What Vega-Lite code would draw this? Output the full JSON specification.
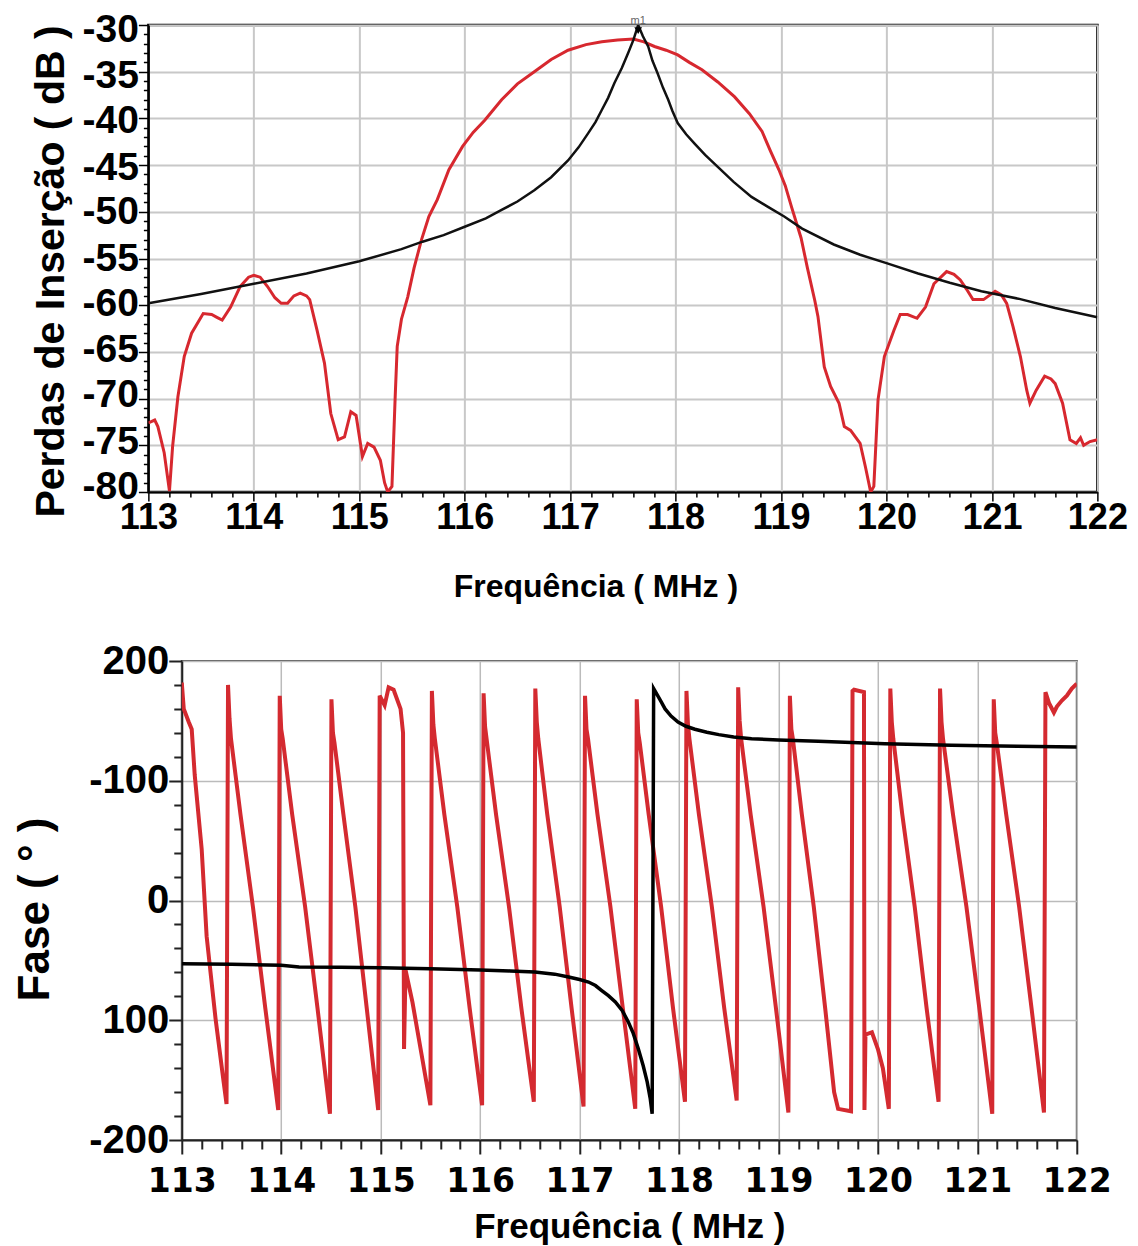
{
  "$schema": "https://vega.github.io/schema/vega-lite/v6.json",
  "background": "white",
  "padding": {"left": 12, "top": 8, "right": 0, "bottom": 0},
  "spacing": 36,
  "center": true,
  "datasets": {
    "perdas_medida": [
      {"f":113.00,"v":-72.6},{"f":113.06,"v":-72.3},{"f":113.09,"v":-73.0},{"f":113.15,"v":-75.8},{"f":113.20,"v":-79.9},
      {"f":113.23,"v":-75.1},{"f":113.28,"v":-69.8},{"f":113.34,"v":-65.5},{"f":113.41,"v":-63.0},{"f":113.52,"v":-60.9},
      {"f":113.60,"v":-61.0},{"f":113.65,"v":-61.3},{"f":113.70,"v":-61.6},{"f":113.78,"v":-60.2},{"f":113.87,"v":-58.0},
      {"f":113.95,"v":-57.0},{"f":114.00,"v":-56.8},{"f":114.06,"v":-57.0},{"f":114.13,"v":-58.0},{"f":114.20,"v":-59.2},
      {"f":114.26,"v":-59.8},{"f":114.32,"v":-59.8},{"f":114.38,"v":-59.0},{"f":114.44,"v":-58.7},{"f":114.50,"v":-59.0},
      {"f":114.53,"v":-59.4},{"f":114.60,"v":-62.7},{"f":114.67,"v":-66.2},{"f":114.73,"v":-71.6},{"f":114.80,"v":-74.4},
      {"f":114.86,"v":-74.1},{"f":114.92,"v":-71.4},{"f":114.97,"v":-71.8},{"f":115.03,"v":-76.2},{"f":115.08,"v":-74.8},
      {"f":115.14,"v":-75.2},{"f":115.20,"v":-76.6},{"f":115.24,"v":-79.0},{"f":115.27,"v":-80.0},{"f":115.31,"v":-79.4},
      {"f":115.34,"v":-70.0},{"f":115.36,"v":-64.4},{"f":115.40,"v":-61.5},{"f":115.46,"v":-59.1},{"f":115.52,"v":-56.0},
      {"f":115.59,"v":-53.0},{"f":115.66,"v":-50.5},{"f":115.74,"v":-48.7},{"f":115.85,"v":-45.5},{"f":115.98,"v":-43.0},
      {"f":116.08,"v":-41.5},{"f":116.19,"v":-40.2},{"f":116.35,"v":-38.0},{"f":116.50,"v":-36.3},{"f":116.66,"v":-35.0},
      {"f":116.82,"v":-33.7},{"f":116.98,"v":-32.7},{"f":117.15,"v":-32.1},{"f":117.30,"v":-31.8},{"f":117.45,"v":-31.6},
      {"f":117.60,"v":-31.5},{"f":117.70,"v":-31.8},{"f":117.80,"v":-32.3},{"f":117.91,"v":-32.7},{"f":118.02,"v":-33.2},
      {"f":118.13,"v":-34.0},{"f":118.25,"v":-34.8},{"f":118.40,"v":-36.1},{"f":118.56,"v":-37.7},{"f":118.70,"v":-39.5},
      {"f":118.82,"v":-41.4},{"f":118.90,"v":-43.5},{"f":118.98,"v":-45.5},{"f":119.04,"v":-47.2},{"f":119.10,"v":-49.5},
      {"f":119.19,"v":-52.8},{"f":119.25,"v":-56.0},{"f":119.32,"v":-59.5},{"f":119.35,"v":-61.2},{"f":119.41,"v":-66.6},
      {"f":119.47,"v":-68.7},{"f":119.55,"v":-70.5},{"f":119.60,"v":-73.0},{"f":119.66,"v":-73.4},{"f":119.75,"v":-74.8},
      {"f":119.80,"v":-77.3},{"f":119.85,"v":-80.0},{"f":119.88,"v":-79.4},{"f":119.92,"v":-70.1},{"f":119.98,"v":-65.5},
      {"f":120.07,"v":-62.7},{"f":120.13,"v":-61.0},{"f":120.20,"v":-61.0},{"f":120.29,"v":-61.4},{"f":120.37,"v":-60.2},
      {"f":120.45,"v":-57.7},{"f":120.57,"v":-56.4},{"f":120.64,"v":-56.7},{"f":120.70,"v":-57.3},{"f":120.76,"v":-58.3},
      {"f":120.82,"v":-59.4},{"f":120.92,"v":-59.4},{"f":121.03,"v":-58.5},{"f":121.09,"v":-58.9},{"f":121.14,"v":-59.8},
      {"f":121.20,"v":-62.3},{"f":121.27,"v":-65.5},{"f":121.33,"v":-69.1},{"f":121.36,"v":-70.5},{"f":121.42,"v":-69.1},
      {"f":121.50,"v":-67.6},{"f":121.56,"v":-67.9},{"f":121.60,"v":-68.4},{"f":121.67,"v":-70.5},{"f":121.74,"v":-74.4},
      {"f":121.80,"v":-74.8},{"f":121.84,"v":-74.2},{"f":121.87,"v":-75.0},{"f":121.93,"v":-74.6},{"f":122.00,"v":-74.4}
    ],
    "perdas_simulada": [
      {"f":113.0,"v":-59.8},{"f":113.5,"v":-58.8},{"f":114.0,"v":-57.7},{"f":114.5,"v":-56.6},{"f":115.0,"v":-55.3},
      {"f":115.4,"v":-54.0},{"f":115.6,"v":-53.2},{"f":115.8,"v":-52.5},{"f":116.0,"v":-51.6},{"f":116.2,"v":-50.7},
      {"f":116.35,"v":-49.8},{"f":116.5,"v":-48.9},{"f":116.66,"v":-47.7},{"f":116.82,"v":-46.3},{"f":116.98,"v":-44.5},
      {"f":117.08,"v":-43.1},{"f":117.17,"v":-41.6},{"f":117.24,"v":-40.4},{"f":117.3,"v":-39.1},{"f":117.36,"v":-37.8},
      {"f":117.42,"v":-36.2},{"f":117.49,"v":-34.6},{"f":117.55,"v":-33.0},{"f":117.6,"v":-31.6},{"f":117.645,"v":-30.0},
      {"f":117.69,"v":-31.2},{"f":117.74,"v":-32.3},{"f":117.78,"v":-33.8},{"f":117.83,"v":-35.2},{"f":117.88,"v":-36.7},
      {"f":117.93,"v":-38.0},{"f":117.97,"v":-39.2},{"f":118.02,"v":-40.5},{"f":118.1,"v":-41.7},{"f":118.18,"v":-42.7},
      {"f":118.28,"v":-43.9},{"f":118.4,"v":-45.2},{"f":118.55,"v":-46.8},{"f":118.72,"v":-48.4},{"f":118.88,"v":-49.5},
      {"f":119.03,"v":-50.5},{"f":119.2,"v":-51.8},{"f":119.5,"v":-53.5},{"f":119.75,"v":-54.6},{"f":120.0,"v":-55.5},
      {"f":120.3,"v":-56.6},{"f":120.6,"v":-57.6},{"f":120.9,"v":-58.5},{"f":121.25,"v":-59.3},{"f":121.6,"v":-60.3},
      {"f":122.0,"v":-61.3}
    ],
    "marcador": [{"f":117.645,"v":-30.6,"nome":"m1"}],
    "fase_medida": [
      {"f":113.0,"v":182},{"f":113.02,"v":160},{"f":113.07,"v":149},{"f":113.10,"v":143},{"f":113.13,"v":105},{"f":113.2,"v":43},{"f":113.25,"v":-30},{"f":113.34,"v":-99},{"f":113.42,"v":-151},{"f":113.45,"v":-170},
      {"f":113.465,"v":180},{"f":113.48,"v":152},{"f":113.495,"v":135},{"f":113.59,"v":72},{"f":113.715,"v":-5},{"f":113.84,"v":-90},{"f":113.97,"v":-175},
      {"f":113.985,"v":171},{"f":114.0,"v":143},{"f":114.015,"v":135},{"f":114.11,"v":72},{"f":114.24,"v":-5},{"f":114.365,"v":-90},{"f":114.49,"v":-178},
      {"f":114.505,"v":168},{"f":114.52,"v":140},{"f":114.535,"v":132},{"f":114.625,"v":72},{"f":114.745,"v":-5},{"f":114.86,"v":-90},{"f":114.975,"v":-175},
      {"f":114.99,"v":171},{"f":115.04,"v":163},{"f":115.08,"v":178},{"f":115.13,"v":176},{"f":115.2,"v":160},{"f":115.225,"v":140},{"f":115.235,"v":-124},{"f":115.25,"v":-58},{"f":115.32,"v":-85},{"f":115.41,"v":-128},{"f":115.50,"v":-171},
      {"f":115.515,"v":175},{"f":115.53,"v":147},{"f":115.545,"v":135},{"f":115.64,"v":72},{"f":115.77,"v":-5},{"f":115.895,"v":-90},{"f":116.02,"v":-171},
      {"f":116.035,"v":173},{"f":116.05,"v":145},{"f":116.065,"v":135},{"f":116.16,"v":72},{"f":116.29,"v":-5},{"f":116.415,"v":-90},{"f":116.54,"v":-168},
      {"f":116.555,"v":177},{"f":116.57,"v":149},{"f":116.585,"v":135},{"f":116.675,"v":72},{"f":116.80,"v":-5},{"f":116.92,"v":-90},{"f":117.04,"v":-172},
      {"f":117.055,"v":171},{"f":117.07,"v":143},{"f":117.085,"v":135},{"f":117.18,"v":72},{"f":117.31,"v":-5},{"f":117.435,"v":-90},{"f":117.56,"v":-174},
      {"f":117.575,"v":168},{"f":117.59,"v":140},{"f":117.605,"v":132},{"f":117.695,"v":72},{"f":117.82,"v":-5},{"f":117.94,"v":-90},{"f":118.06,"v":-168},
      {"f":118.075,"v":175},{"f":118.09,"v":147},{"f":118.105,"v":135},{"f":118.2,"v":72},{"f":118.33,"v":-5},{"f":118.455,"v":-90},{"f":118.58,"v":-167},
      {"f":118.595,"v":178},{"f":118.61,"v":150},{"f":118.625,"v":135},{"f":118.72,"v":72},{"f":118.85,"v":-5},{"f":118.975,"v":-90},{"f":119.10,"v":-177},
      {"f":119.115,"v":171},{"f":119.13,"v":143},{"f":119.145,"v":135},{"f":119.235,"v":72},{"f":119.355,"v":-5},{"f":119.47,"v":-90},{"f":119.56,"v":-160},{"f":119.60,"v":-174},{"f":119.73,"v":-176},
      {"f":119.745,"v":175},{"f":119.76,"v":176},{"f":119.86,"v":174},{"f":119.865,"v":-175},{"f":119.875,"v":-112},{"f":119.94,"v":-110},{"f":120.0,"v":-124},{"f":120.05,"v":-140},{"f":120.11,"v":-174},
      {"f":120.125,"v":177},{"f":120.14,"v":149},{"f":120.155,"v":135},{"f":120.245,"v":72},{"f":120.37,"v":-5},{"f":120.49,"v":-90},{"f":120.61,"v":-168},
      {"f":120.625,"v":177},{"f":120.64,"v":149},{"f":120.655,"v":135},{"f":120.755,"v":72},{"f":120.89,"v":-5},{"f":121.02,"v":-90},{"f":121.15,"v":-178},
      {"f":121.165,"v":168},{"f":121.18,"v":140},{"f":121.195,"v":132},{"f":121.29,"v":72},{"f":121.42,"v":-5},{"f":121.545,"v":-90},{"f":121.67,"v":-177},
      {"f":121.685,"v":174},{"f":121.72,"v":165},{"f":121.77,"v":157},{"f":121.80,"v":162},{"f":121.85,"v":167},{"f":121.9,"v":171},{"f":121.95,"v":177},{"f":122.0,"v":181}
    ],
    "fase_simulada": [
      {"f":113.0,"v":-52.8},{"f":113.5,"v":-53.3},{"f":114.0,"v":-54.0},{"f":114.18,"v":-55.5},{"f":114.6,"v":-55.8},
      {"f":115.0,"v":-56.2},{"f":115.5,"v":-57.0},{"f":116.0,"v":-58.0},{"f":116.3,"v":-58.8},{"f":116.55,"v":-59.7},
      {"f":116.75,"v":-61.5},{"f":116.89,"v":-63.9},{"f":117.0,"v":-66.0},{"f":117.09,"v":-68.1},{"f":117.16,"v":-71.0},
      {"f":117.22,"v":-75.0},{"f":117.29,"v":-79.5},{"f":117.36,"v":-84.7},{"f":117.43,"v":-92},{"f":117.49,"v":-101.4},
      {"f":117.54,"v":-111},{"f":117.59,"v":-123.7},{"f":117.64,"v":-138},{"f":117.68,"v":-151.5},{"f":117.71,"v":-165},
      {"f":117.73,"v":-178},{"f":117.745,"v":177},{"f":117.78,"v":172},{"f":117.82,"v":166},{"f":117.86,"v":160},
      {"f":117.92,"v":154},{"f":117.99,"v":149},{"f":118.07,"v":145.5},{"f":118.16,"v":143},{"f":118.28,"v":140.5},
      {"f":118.4,"v":138.5},{"f":118.55,"v":136.6},{"f":118.73,"v":135.1},{"f":119.0,"v":134},{"f":119.4,"v":133},
      {"f":120.07,"v":131},{"f":120.74,"v":129.6},{"f":121.4,"v":128.8},{"f":122.0,"v":128.2}
    ]
  },
  "vconcat": [
    {
      "width": 949,
      "height": 467,
      "view": {"stroke": "black", "strokeWidth": 2.5},
      "resolve": {"axis": {"y": "independent"}},
      "encoding": {
        "x": {
          "field": "f", "type": "quantitative",
          "scale": {"domain": [113, 122], "nice": false, "zero": false},
          "axis": {
            "title": "Frequência ( MHz )",
            "values": [113,113.2,113.4,113.6,113.8,114,114.2,114.4,114.6,114.8,115,115.2,115.4,115.6,115.8,116,116.2,116.4,116.6,116.8,117,117.2,117.4,117.6,117.8,118,118.2,118.4,118.6,118.8,119,119.2,119.4,119.6,119.8,120,120.2,120.4,120.6,120.8,121,121.2,121.4,121.6,121.8,122],
            "labelExpr": "abs(datum.value - round(datum.value)) < 0.01 ? format(round(datum.value), 'd') : ''",
            "labelFont": "Liberation Sans", "labelFontWeight": "bold", "labelFontSize": 36, "labelColor": "black",
            "labelFlush": false, "labelOverlap": false, "labelBound": false, "labelPadding": -1,
            "tickColor": "black", "tickWidth": 1.5,
            "tickSize": {"condition": {"test": "abs(datum.value - round(datum.value)) < 0.01", "value": 9}, "value": 5},
            "grid": true, "gridColor": "#c8c8c8", "gridWidth": 2,
            "gridOpacity": {"condition": {"test": "abs(datum.value - round(datum.value)) < 0.01", "value": 1}, "value": 0},
            "domainColor": "black", "domainWidth": 2,
            "titleFont": "Liberation Sans", "titleFontWeight": "bold", "titleFontSize": 32, "titleColor": "black",
            "titleX": 447, "titleY": 79
          }
        }
      },
      "layer": [
        {"data": {"name": "perdas_medida"}, "mark": {"type": "line", "color": "#d7282f", "strokeWidth": 3, "clip": true},
         "encoding": {"y": {
          "field": "v", "type": "quantitative",
          "scale": {"domain": [-80, -30], "nice": false, "zero": false},
          "axis": {
            "orient": "left",
            "title": "Perdas de Inserção ( dB )",
            "values": [-80,-79,-78,-77,-76,-75,-74,-73,-72,-71,-70,-69,-68,-67,-66,-65,-64,-63,-62,-61,-60,-59,-58,-57,-56,-55,-54,-53,-52,-51,-50,-49,-48,-47,-46,-45,-44,-43,-42,-41,-40,-39,-38,-37,-36,-35,-34,-33,-32,-31,-30],
            "labelExpr": "datum.value % 5 == 0 ? '-' + format(abs(datum.value), 'd') : ''",
            "labelFont": "Liberation Sans", "labelFontWeight": "bold", "labelFontSize": 39, "labelColor": "black",
            "labelOverlap": false, "labelBound": false, "labelPadding": 0,
            "labelOffset": {"condition": [
              {"test": "datum.value >= -35", "value": 4},
              {"test": "datum.value >= -45", "value": 2},
              {"test": "datum.value >= -55", "value": 0},
              {"test": "datum.value >= -65", "value": -2},
              {"test": "datum.value >= -75", "value": -4}
            ], "value": -6},
            "tickColor": "black", "tickWidth": 1.5,
            "tickSize": {"condition": {"test": "datum.value % 5 == 0", "value": 10}, "value": 5},
            "grid": true, "gridColor": "#c8c8c8", "gridWidth": 2,
            "gridOpacity": {"condition": {"test": "datum.value % 5 == 0", "value": 1}, "value": 0},
            "domainColor": "black", "domainWidth": 2,
            "titleFont": "Liberation Sans", "titleFontWeight": "bold", "titleFontSize": 41, "titleColor": "black",
            "titleX": -76, "titleY": 246
          }
         }}},
        {"data": {"name": "perdas_simulada"}, "mark": {"type": "line", "color": "#111111", "strokeWidth": 2.5, "clip": true},
         "encoding": {"y": {"field": "v", "type": "quantitative",
           "scale": {"domain": [-80, -30], "nice": false, "zero": false},
           "axis": {"orient": "right", "labels": false, "ticks": true, "values": [-55], "tickSize": 47, "tickOpacity": 0, "domain": false, "grid": false, "title": null}}}},
        {"data": {"name": "marcador"}, "mark": {"type": "point", "shape": "triangle-down", "filled": true, "color": "black", "size": 60, "opacity": 1},
         "encoding": {"y": {"field": "v", "type": "quantitative", "scale": {"domain": [-80, -30], "nice": false, "zero": false}, "axis": null}}},
        {"data": {"name": "marcador"}, "mark": {"type": "text", "font": "Liberation Sans", "fontSize": 11, "color": "#666666", "dy": -7, "baseline": "alphabetic"},
         "encoding": {"y": {"field": "v", "type": "quantitative", "scale": {"domain": [-80, -30], "nice": false, "zero": false}, "axis": null},
                      "text": {"field": "nome"}}}
      ]
    },
    {
      "width": 895,
      "height": 479,
      "view": {"stroke": "#555555", "strokeWidth": 2},
      "encoding": {
        "x": {
          "field": "f", "type": "quantitative",
          "scale": {"domain": [113, 122], "nice": false, "zero": false},
          "axis": {
            "title": "Frequência ( MHz )",
            "values": [113,113.2,113.4,113.6,113.8,114,114.2,114.4,114.6,114.8,115,115.2,115.4,115.6,115.8,116,116.2,116.4,116.6,116.8,117,117.2,117.4,117.6,117.8,118,118.2,118.4,118.6,118.8,119,119.2,119.4,119.6,119.8,120,120.2,120.4,120.6,120.8,121,121.2,121.4,121.6,121.8,122],
            "labelExpr": "abs(datum.value - round(datum.value)) < 0.01 ? format(round(datum.value), 'd') : ''",
            "labelFont": "DejaVu Sans", "labelFontWeight": "bold", "labelFontSize": 33, "labelColor": "black",
            "labelFlush": false, "labelOverlap": false, "labelBound": false, "labelPadding": 11,
            "tickColor": "#222222", "tickWidth": 2,
            "tickSize": {"condition": {"test": "abs(datum.value - round(datum.value)) < 0.01", "value": 14}, "value": 9},
            "grid": true, "gridColor": "#bbbbbb", "gridWidth": 1.5,
            "gridOpacity": {"condition": {"test": "abs(datum.value - round(datum.value)) < 0.01", "value": 1}, "value": 0},
            "domainColor": "#222222", "domainWidth": 2,
            "titleFont": "Liberation Sans", "titleFontWeight": "bold", "titleFontSize": 35, "titleColor": "black",
            "titleX": 447.5, "titleY": 69
          }
        },
        "y": {
          "field": "v", "type": "quantitative",
          "scale": {"domain": [-200, 200], "nice": false, "zero": false},
          "axis": {
            "title": "Fase ( ° )",
            "values": [-200,-180,-160,-140,-120,-100,-80,-60,-40,-20,0,20,40,60,80,100,120,140,160,180,200],
            "labelExpr": "datum.value == 200 ? '200' : datum.value == 100 ? '-100' : datum.value == 0 ? '0' : datum.value == -100 ? '100' : datum.value == -200 ? '-200' : ''",
            "labelFont": "Liberation Sans", "labelFontWeight": "bold", "labelFontSize": 40, "labelColor": "black",
            "labelOverlap": false, "labelBound": false, "labelPadding": 0,
            "tickColor": "#222222", "tickWidth": 2,
            "tickSize": {"condition": {"test": "datum.value % 100 == 0", "value": 13}, "value": 8},
            "grid": true, "gridColor": "#bbbbbb", "gridWidth": 1.5,
            "gridOpacity": {"condition": {"test": "datum.value % 100 == 0", "value": 1}, "value": 0},
            "domainColor": "#222222", "domainWidth": 2,
            "titleFont": "Liberation Sans", "titleFontWeight": "bold", "titleFontSize": 44, "titleColor": "black",
            "titleX": -124, "titleY": 248
          }
        }
      },
      "layer": [
        {"data": {"name": "fase_medida"}, "mark": {"type": "line", "color": "#d42a30", "strokeWidth": 4, "clip": true}},
        {"data": {"name": "fase_simulada"}, "mark": {"type": "line", "color": "#000000", "strokeWidth": 3.5, "clip": true}}
      ]
    }
  ]
}
